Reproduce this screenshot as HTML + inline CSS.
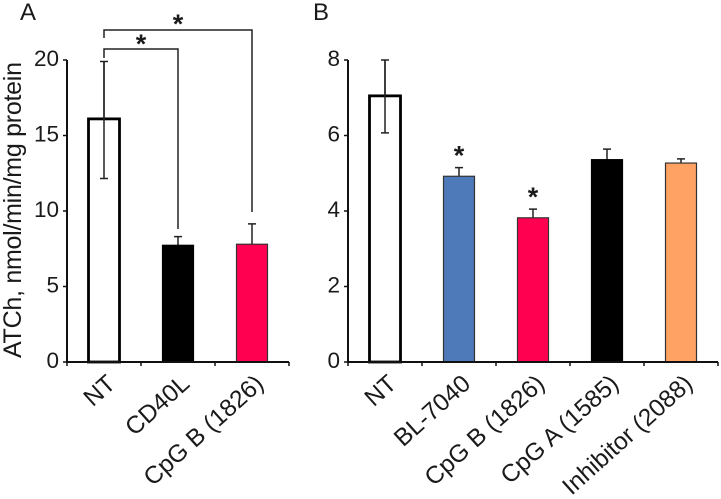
<!DOCTYPE html>
<html>
<head>
<meta charset="utf-8">
<style>
html,body{margin:0;padding:0;background:#fff;width:721px;height:499px;overflow:hidden}
svg{display:block}
text{font-family:"Liberation Sans",sans-serif;fill:#1a1a1a}
</style>
</head>
<body>
<svg id="chart" width="721" height="499" viewBox="0 0 721 499" xmlns="http://www.w3.org/2000/svg">
  <text x="20" y="20" font-size="24">A</text>
  <text x="313" y="20" font-size="24">B</text>
  <text transform="translate(21,210) rotate(-90)" text-anchor="middle" font-size="25" textLength="296" lengthAdjust="spacing">ATCh, nmol/min/mg protein</text>
  <g fill="none" stroke="#222" stroke-width="1.5">
    <path d="M104 38V30H252V212"/>
    <path d="M104 58V49H178V229"/>
  </g>
  <text x="178" y="33" text-anchor="middle" font-size="27" font-weight="bold">*</text>
  <text x="141" y="53" text-anchor="middle" font-size="27" font-weight="bold">*</text>
</svg>
<script>
var panelACategories = ['NT', 'CD40L', 'CpG B (1826)'];
var panelAValues = [16.1, 7.73, 7.8];
var panelAErrorHigh = [19.9, 8.3, 9.15];
var panelAErrorLow = [12.15, null, null];
var panelATicks = [0, 5, 10, 15, 20];

var panelBCategories = ['NT', 'BL-7040', 'CpG B (1826)', 'CpG A (1585)', 'Inhibitor (2088)'];
var panelBValues = [7.05, 4.92, 3.82, 5.36, 5.27];
var panelBErrorHigh = [8.0, 5.15, 4.05, 5.64, 5.38];
var panelBErrorLow = [6.07, null, null, null, null];
var panelBTicks = [0, 2, 4, 6, 8];
var panelBStars = [false, true, true, false, false];

var panelAFills = ['#ffffff', '#000000', '#ff0050'];
var panelBFills = ['#ffffff', '#4f7ab9', '#ff0050', '#000000', '#ffa264'];

var svg = document.getElementById('chart');
var NS = 'http://www.w3.org/2000/svg';

function make(tag, attrs, parent) {
  var el = document.createElementNS(NS, tag);
  for (var k in attrs) el.setAttribute(k, attrs[k]);
  parent.appendChild(el);
  return el;
}

function drawPanel(cfg) {
  var step = 74;
  var y0 = 362, yTop = 60;
  function yScale(v) { return y0 - (v / cfg.yMax) * (y0 - yTop); }
  function xCenter(i) { return cfg.axisX + step * (i + 0.5); }

  var g = make('g', {}, svg);
  
  

  cfg.values.forEach(function (v, i) {
    var cx = xCenter(i);
    var isOpen = cfg.fills[i] === '#ffffff';
    var sw = isOpen ? 2.8 : 1.2;
    var stroke = isOpen ? '#000' : (cfg.fills[i] === '#000000' ? '#000' : '#333');
    var errStroke = '#222';

    var hi = make('path', {
      d: 'M' + cx + ' ' + yScale(v) + 'V' + yScale(cfg.errHigh[i]) + 'M' + (cx - 4) + ' ' + yScale(cfg.errHigh[i]) + 'H' + (cx + 4),
      stroke: errStroke, 'stroke-width': 1.5, fill: 'none'
    }, g);
    
    

    var bar = make('rect', {
      x: cx - 15.5, y: yScale(v), width: 31, height: y0 - yScale(v),
      fill: cfg.fills[i], stroke: stroke, 'stroke-width': sw
    }, g);
    
    

    if (cfg.errLow[i] !== null) {
      var lo = make('path', {
        d: 'M' + cx + ' ' + yScale(v) + 'V' + yScale(cfg.errLow[i]) + 'M' + (cx - 4) + ' ' + yScale(cfg.errLow[i]) + 'H' + (cx + 4) + 'M' + cx + ' ' + yScale(v) + 'V' + yScale(cfg.errHigh[i]),
        stroke: errStroke, 'stroke-width': 1.5, fill: 'none'
      }, g);
      
      
    }

    if (cfg.stars && cfg.stars[i]) {
      var st = make('text', {
        x: cx, y: yScale(cfg.errHigh[i]) - 3, 'text-anchor': 'middle',
        'font-size': 27, 'font-weight': 'bold'
      }, g);
      st.textContent = '*';
      
      
    }

    var lx = cx + 7, ly = y0 + 17;
    var lab = make('text', {
      transform: 'translate(' + lx + ',' + ly + ') rotate(-42)',
      'text-anchor': 'end', 'font-size': 24.5, x: 0, y: 9
    }, g);
    lab.textContent = cfg.categories[i];
    
    
  });

  var axisEnd = cfg.axisX + step * cfg.values.length;
  var axes = make('path', {
    d: 'M' + cfg.axisX + ' ' + yTop + 'V' + y0 + 'H' + axisEnd,
    stroke: '#111', 'stroke-width': 2, fill: 'none'
  }, g);
  
  

  cfg.ticks.forEach(function (t) {
    var yy = yScale(t);
    var tk = make('line', { x1: cfg.axisX - 4, x2: cfg.axisX, y1: yy, y2: yy, stroke: '#111', 'stroke-width': 1.5 }, g);
    
    
    var tl = make('text', { x: cfg.axisX - 8, y: yy + 6, 'text-anchor': 'end', 'font-size': 22.5 }, g);
    tl.textContent = t;
    
    
  });

  for (var i = 0; i <= cfg.values.length; i++) {
    var xt = cfg.axisX + step * i;
    var xk = make('line', { x1: xt, x2: xt, y1: y0, y2: y0 + 4, stroke: '#111', 'stroke-width': 1.5 }, g);
    
    
  }
}

drawPanel({ id: 'panel-a', axisX: 67, yMax: 20, categories: panelACategories, values: panelAValues, errHigh: panelAErrorHigh, errLow: panelAErrorLow, ticks: panelATicks, fills: panelAFills });
drawPanel({ id: 'panel-b', axisX: 348, yMax: 8, categories: panelBCategories, values: panelBValues, errHigh: panelBErrorHigh, errLow: panelBErrorLow, ticks: panelBTicks, fills: panelBFills, stars: panelBStars });
</script>
</body>
</html>
